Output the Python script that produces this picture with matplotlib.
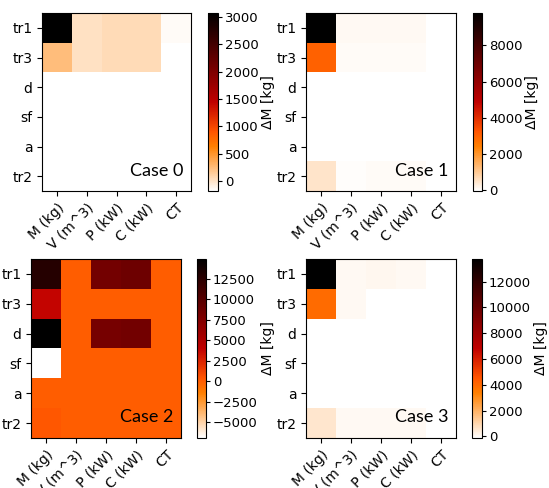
import numpy as np
import matplotlib.pyplot as plt
from matplotlib.ticker import MultipleLocator

rows = ["tr1", "tr3", "d", "sf", "a", "tr2"]
cols = ["M (kg)", "V (m^3)", "P (kW)", "C (kW)", "CT"]
nan = np.nan

# delta mass per case (rows x cols), blank cells are nan
case0 = [[3070, 20, 60, 60, -150],
         [250, 20, 50, 50, -180],
         [nan, nan, nan, nan, nan],
         [nan, nan, nan, nan, nan],
         [nan, nan, nan, nan, nan],
         [nan, nan, nan, nan, nan]]
case1 = [[9780, 100, 100, 100, nan],
         [3000, 60, 60, 60, nan],
         [nan, nan, nan, nan, nan],
         [nan, nan, nan, nan, nan],
         [nan, nan, nan, nan, nan],
         [500, 30, 80, 80, -30]]
case2 = [[12700, 0, 8300, 8600, 0],
         [3800, 0, 0, 0, 0],
         [14900, 0, 8100, 8400, 0],
         [-6900, 0, 0, 0, 0],
         [0, 0, 0, 0, 0],
         [300, 0, 0, 0, 0]]
case3 = [[13750, 50, 100, 80, nan],
         [3900, 80, nan, nan, nan],
         [nan, nan, nan, nan, nan],
         [nan, nan, nan, nan, nan],
         [nan, nan, nan, nan, nan],
         [550, 60, 60, 60, -130]]
cases = [case0, case1, case2, case3]
names = ["Case 0", "Case 1", "Case 2", "Case 3"]
cb_steps = [500, 2000, 2500, 2000]

W, H = 549, 488
# axes and colorbar boxes in pixels: (x0, y0_top, x1, y1)
ax_px = [(42, 13, 191, 191), (306, 13, 456, 191),
         (31, 259, 181, 438), (306, 259, 456, 438)]
cb_px = [(208, 13, 218, 191), (473, 13, 482, 191),
         (197, 259, 206, 438), (472, 259, 482, 438)]

def box(p):
    x0, y0, x1, y1 = p
    return [x0/W, (H-y1)/H, (x1-x0)/W, (y1-y0)/H]

fig = plt.figure(figsize=(W/100, H/100), dpi=100)
for i, data in enumerate(cases):
    ax = fig.add_axes(box(ax_px[i]))
    cax = fig.add_axes(box(cb_px[i]))
    im = ax.imshow(np.array(data, dtype=float), cmap="gist_heat_r", aspect="auto")
    ax.set_xticks(range(len(cols)))
    ax.set_xticklabels(cols, fontsize=10)
    ax.set_yticks(range(len(rows)))
    ax.set_yticklabels(rows, fontsize=10)
    plt.setp(ax.get_xticklabels(), rotation=45, ha="right", rotation_mode="anchor")
    ax.text(0.95, 0.07, names[i], transform=ax.transAxes, ha="right", va="bottom",
            fontsize=13, family="Lato")
    cb = fig.colorbar(im, cax=cax)
    cb.ax.yaxis.set_major_locator(MultipleLocator(cb_steps[i]))
    cb.ax.tick_params(labelsize=9.5, length=3, pad=2)
    cb.set_label("ΔM [kg]", fontsize=10, labelpad=2)

plt.savefig("out.png", dpi=100)
